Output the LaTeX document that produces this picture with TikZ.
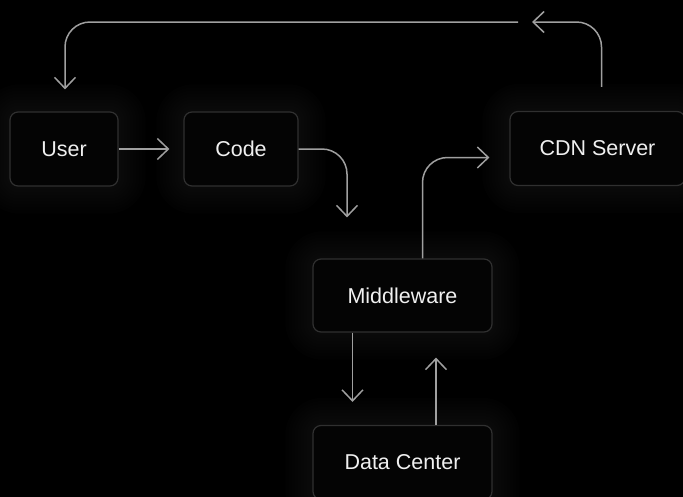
\documentclass[tikz,border=0pt]{standalone}
\usepackage{fontspec}
\setmainfont{Liberation Sans}
\usetikzlibrary{arrows.meta,positioning}

\definecolor{boxfill}{HTML}{040404}
\definecolor{boxline}{HTML}{303030}
\definecolor{wire}{HTML}{A0A0A0}
\definecolor{label}{HTML}{F0F0F0}

\pgfdeclarelayer{bg}
\pgfdeclarelayer{halo}
\pgfsetlayers{bg,halo,main}

\tikzset{
  block/.style={draw=boxline, line width=1.2pt, fill=boxfill, rounded corners=8pt,
    minimum height=74pt, text=label, font=\fontsize{21.5}{25}\selectfont},
  flow/.style={draw=wire, line width=1.5pt, -{Straight Barb[length=11pt,width=21pt]},
    rounded corners=25pt}
}

\begin{document}
\begin{tikzpicture}[x=1pt, y=-1pt]
        \useasboundingbox (0,0) rectangle (683,496);
        \clip (0,0) rectangle (683,496);

        % Nodes
        \node (user) [block, minimum width=108pt] at (64,149) {User};
        \node (code) [block, minimum width=114pt] at (241,149) {Code};
        \node (cdn) [block, minimum width=175pt] at (597.5,148.5) {CDN Server};
        \node (mid) [block, minimum width=179pt, minimum height=73pt] at (402.5,295.5) {Middleware};
        \node (dc) [block, minimum width=179pt] at (402.5,462.5) {Data Center};
        \coordinate (back) at (532,22);
        \coordinate (back2) at (518,22);

        % Edges
        \draw[flow, shorten >=14pt] (user) -- (code);
        \draw[flow, shorten >=41pt] (code.east) -| ([xshift=-55.5pt]mid.north);
        \draw[flow, shorten >=20pt] ([xshift=20pt]mid.north) |- ([yshift=-9pt]cdn.west);
        \draw[flow, shorten <=24pt] ([xshift=4pt]cdn.north) |- (back);
        \draw[flow, shorten >=22pt] (back2) -| ([xshift=1pt]user.north);
        \draw[flow, shorten >=23pt] ([xshift=-50pt]mid.south) -- ([xshift=-50pt]dc.north);
        \draw[flow, shorten >=25pt] ([xshift=33.5pt]dc.north) -- ([xshift=33.5pt]mid.south);

        % soft glow round the boxes
        \begin{pgfonlayer}{halo}
          \foreach \n in {user,code,cdn,mid,dc}
            \foreach \r in {3,6,...,27}
              \fill[white, opacity=0.008, rounded corners=10pt+\r pt]
                ([xshift=-\r pt, yshift=\r pt]\n.north west) rectangle ([xshift=\r pt, yshift=-\r pt]\n.south east);
        \end{pgfonlayer}
        \begin{pgfonlayer}{bg}
          \fill[black] (-5,-5) rectangle (690,505);
        \end{pgfonlayer}
    \end{tikzpicture}
\end{document}
